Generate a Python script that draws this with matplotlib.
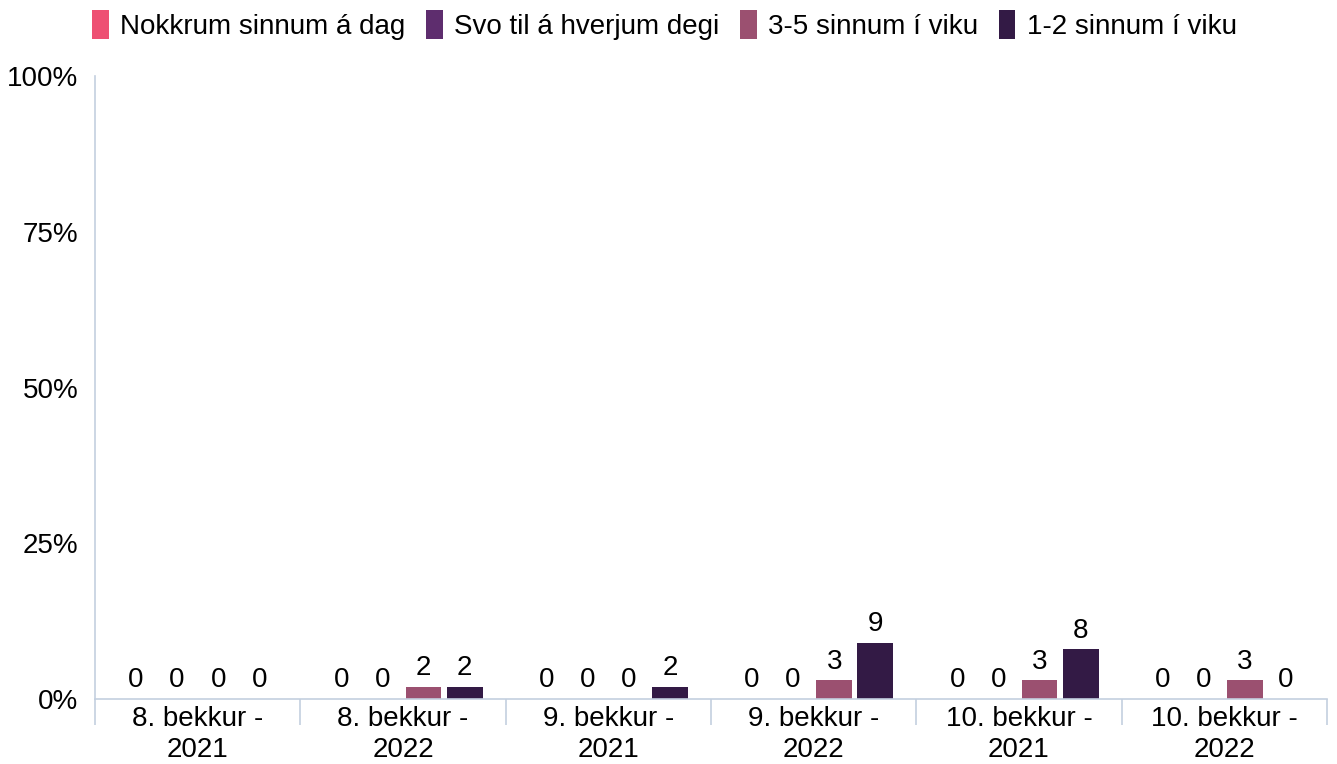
import numpy as np
import matplotlib.pyplot as plt
from matplotlib.ticker import FixedLocator

plt.rcParams['font.family'] = ['Liberation Sans', 'DejaVu Sans']

categories = ["8. bekkur -\n2021", "8. bekkur -\n2022", "9. bekkur -\n2021",
              "9. bekkur -\n2022", "10. bekkur -\n2021", "10. bekkur -\n2022"]
series_names = ["Nokkrum sinnum á dag", "Svo til á hverjum degi",
                "3-5 sinnum í viku", "1-2 sinnum í viku"]
nokkrum = [0, 0, 0, 0, 0, 0]
svo_til = [0, 0, 0, 0, 0, 0]
sinnum_3_5 = [0, 2, 0, 3, 3, 3]
sinnum_1_2 = [0, 2, 2, 9, 8, 0]
colors = ["#EE5073", "#5E2D6E", "#9B5070", "#331A45"]

series = [nokkrum, svo_til, sinnum_3_5, sinnum_1_2]

fig = plt.figure(figsize=(13.37, 7.64), dpi=100)
ax = fig.add_axes([0.071, 0.085, 0.9215, 0.8155])

x = np.arange(len(categories))
step = 0.2
width = 0.175
for i, (vals, name, col) in enumerate(zip(series, series_names, colors)):
    pos = x + (i - 1.5) * step
    ax.bar(pos, vals, width=width, color=col, label=name)
    for p, v in zip(pos, vals):
        ax.text(p, v + 0.9, f"{v}", ha="center", va="bottom", fontsize=20)

ax.set_xlim(-0.5, len(categories) - 0.5)
ax.set_ylim(0, 100)
ax.set_yticks([0, 25, 50, 75, 100])
ax.set_yticklabels(["0%", "25%", "50%", "75%", "100%"], fontsize=20)
ax.tick_params(axis="y", length=0, pad=12)

ax.set_xticks(x)
ax.set_xticklabels(categories, fontsize=20, linespacing=1.25)
ax.tick_params(axis="x", length=0, pad=5)
ax.xaxis.set_minor_locator(FixedLocator(np.arange(-0.5, len(categories), 1.0)))
ax.tick_params(axis="x", which="minor", length=19, color="#C3CFDF", width=1.2)

for s in ["top", "right"]:
    ax.spines[s].set_visible(False)
ax.spines["left"].set_color("#C3CFDF")
ax.spines["bottom"].set_color("#C3CFDF")
ax.spines["left"].set_linewidth(1.2)
ax.spines["bottom"].set_linewidth(1.2)

fig.legend(loc="upper center", bbox_to_anchor=(0.497, 1.012), ncol=4, frameon=False,
           fontsize=20, handlelength=0.6, handleheight=1.2, handletextpad=0.4,
           columnspacing=0.75, borderaxespad=0.3)

fig.savefig("out.png", dpi=100)
